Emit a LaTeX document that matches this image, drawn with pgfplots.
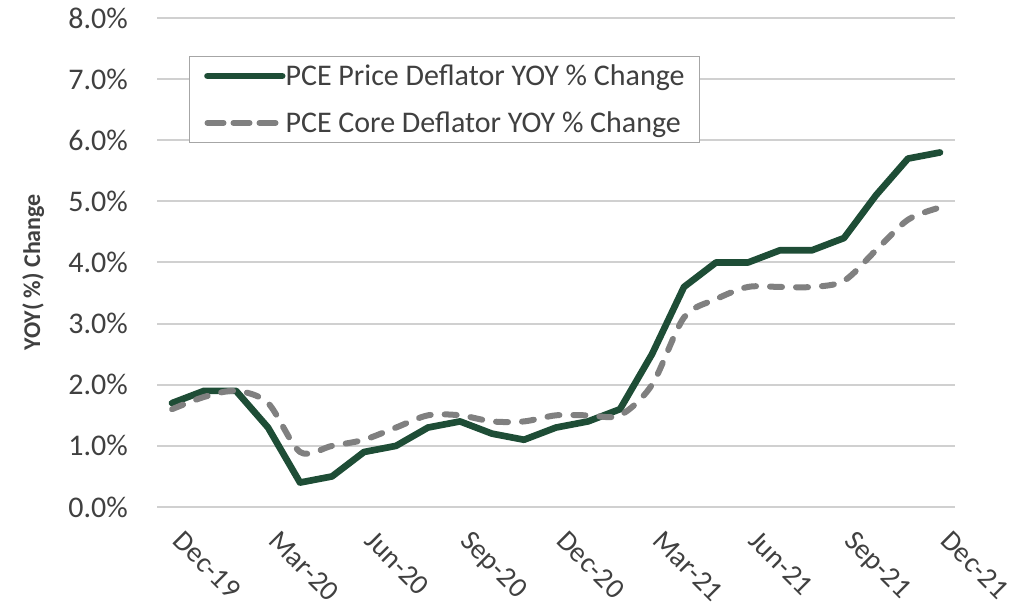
\documentclass[border=0pt]{standalone}
\usepackage{fontspec}
\setmainfont{Carlito}
\usepackage{pgfplots}
\usepackage{pgfplotstable}
\pgfplotsset{compat=1.18}

\definecolor{pcegreen}{HTML}{1E4D36}
\definecolor{coregray}{HTML}{808080}
\definecolor{gridgray}{HTML}{D0D0D0}
\definecolor{txtgray}{HTML}{404040}
\definecolor{boxgray}{HTML}{A6A6A6}

% month index (0 = Dec-19), YOY % change
\pgfplotstableread{
m  pce  core
0  1.7  1.6
1  1.9  1.8
2  1.9  1.9
3  1.3  1.7
4  0.4  0.9
5  0.5  1.0
6  0.9  1.1
7  1.0  1.3
8  1.3  1.5
9  1.4  1.5
10 1.2  1.4
11 1.1  1.4
12 1.3  1.5
13 1.4  1.5
14 1.6  1.5
15 2.5  2.0
16 3.6  3.1
17 4.0  3.4
18 4.0  3.6
19 4.2  3.6
20 4.2  3.6
21 4.4  3.7
22 5.1  4.2
23 5.7  4.7
24 5.8  4.9
}\pcedata

\begin{document}
\begin{tikzpicture}
\path[use as bounding box] (0pt,0pt) rectangle (767.25pt,459.75pt);
\begin{axis}[
  at={(117.75pt,79.5pt)}, anchor=south west,
  width=598.5pt, height=366.75pt, scale only axis,
  xmin=-0.47, xmax=24.47, ymin=0, ymax=8,
  axis x line*=bottom, axis y line*=left,
  axis line style={draw=none},
  major tick length=0pt,
  ymajorgrids, grid style={gridgray, line width=1.5pt},
  xtick={0,3,...,24},
  xticklabels={Dec-19,Mar-20,Jun-20,Sep-20,Dec-20,Mar-21,Jun-21,Sep-21,Dec-21},
  ytick={0,1,...,8},
  yticklabel={\pgfmathprintnumber[fixed,fixed zerofill,precision=1]{\tick}\%},
  /pgf/number format/assume math mode=true,
  tick label style={font=\fontsize{22.5}{27}\selectfont, text=txtgray},
  yticklabel style={inner sep=0pt, anchor=east, xshift=-21.75pt},
  xticklabel style={font=\fontsize{21.5}{26}\selectfont, inner sep=0pt,
    xshift=9.5pt, yshift=-16.5pt, rotate=-45, anchor=north west},
  ylabel={YOY(\ \%) Change},
  ylabel style={font=\fontsize{18}{20}\selectfont\bfseries, text=txtgray,
    at={(axis description cs:-0.155,0.48)}, anchor=center},
  legend style={at={(axis description cs:0.0401,0.922)}, anchor=north west,
    draw=boxgray, line width=0.75pt, fill=white,
    font=\fontsize{22.5}{27}\selectfont, text=txtgray,
    inner xsep=11pt, inner ysep=6pt, row sep=18pt, column sep=0pt,
    nodes={inner sep=0pt}, cells={anchor=west}},
  legend image code/.code={
    \path (0pt,0pt) -- (56pt,0pt);
    \draw[#1] (3pt,0pt) -- (53pt,0pt);},
  legend cell align=left,
]
\addplot[pcegreen, line width=5pt, line join=round, line cap=round]
  table[x=m, y=pce]{\pcedata};
\addlegendentry{PCE Price Deflator YOY \% Change}
\addplot[coregray, line width=4.5pt, dash pattern=on 9pt off 10.5pt,
  line cap=round, line join=round, smooth, tension=0.5]
  table[x=m, y=core]{\pcedata};
\addlegendentry{PCE Core Deflator YOY \% Change}
\end{axis}
\end{tikzpicture}
\end{document}
